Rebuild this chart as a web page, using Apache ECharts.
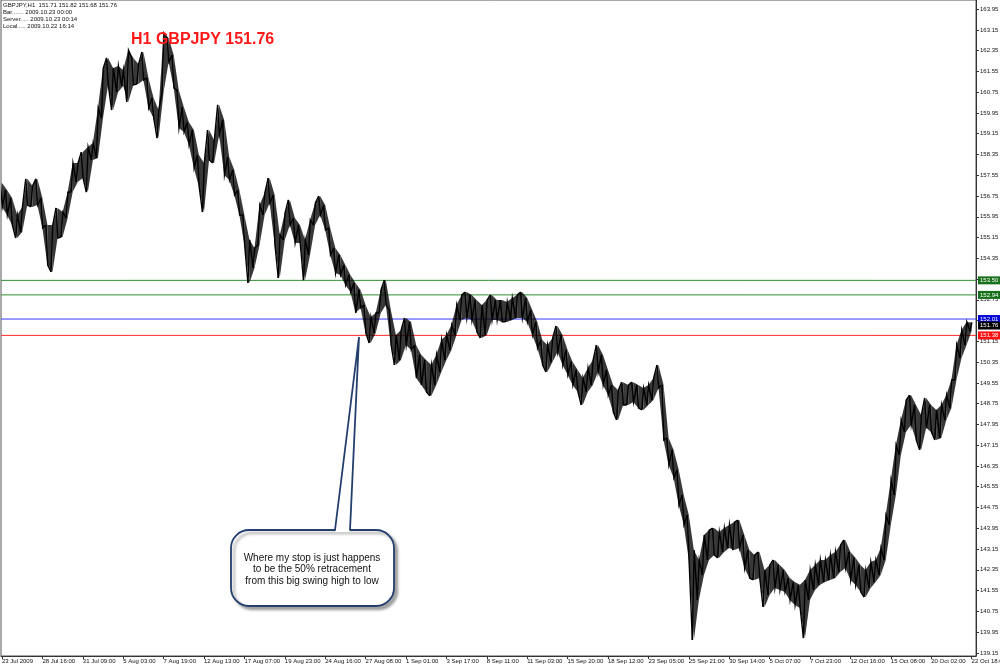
<!DOCTYPE html>
<html><head><meta charset="utf-8">
<script src="https://cdn.jsdelivr.net/npm/echarts@6/dist/echarts.min.js"></script>
<style>html,body{margin:0;padding:0;background:#fff;}#c{width:1000px;height:667px;}</style>
</head><body><div id="c"></div>
<script>
// Each sample = 8 hourly bars of GBPJPY H1 (high / low)
const highs = [157.25,156.98,156.67,156.02,156.33,157.41,157.14,157.41,156.67,155.63,
155.63,156.29,156.13,156.90,158.02,158.02,158.44,158.64,158.79,160.14,
161.68,162.07,161.68,161.76,161.60,162.37,162.07,161.83,162.30,161.30,
160.53,160.06,163.03,162.84,162.18,160.83,160.18,159.60,159.29,158.33,
158.02,159.29,158.91,160.26,159.68,158.25,157.75,156.98,156.02,155.06,
154.75,156.40,156.87,157.44,156.79,155.25,156.10,156.60,155.90,155.63,
155.06,155.83,156.48,156.75,156.40,155.52,154.75,154.48,154.09,153.71,
153.40,153.13,152.55,152.09,152.24,153.13,153.51,152.36,151.40,151.59,
152.05,151.90,151.01,150.63,150.43,150.24,150.63,151.20,151.40,151.78,
152.55,152.94,153.05,152.94,152.74,152.55,152.74,152.94,152.74,152.74,
152.67,152.82,152.94,153.05,152.82,152.36,151.90,151.20,151.01,151.28,
151.74,151.40,150.82,150.36,150.05,149.74,150.12,150.43,151.01,150.63,
150.05,149.47,149.27,149.58,149.47,149.58,149.47,149.35,149.47,149.74,
150.24,149.47,147.43,146.97,146.20,145.23,144.46,143.11,142.73,143.69,
143.88,143.96,143.81,143.96,144.08,144.19,144.27,143.69,143.11,142.92,
143.04,142.34,142.54,142.73,142.54,142.34,142.03,141.88,141.77,141.96,
142.34,142.54,142.73,142.73,142.92,143.04,143.31,143.50,143.04,142.81,
142.54,142.34,142.65,142.73,143.19,144.46,145.81,147.16,148.12,148.89,
149.08,148.70,148.31,148.97,148.70,148.51,148.70,149.08,149.66,151.01,
151.59,151.90,151.88];
const lows = [156.33,156.02,155.63,155.13,155.36,156.40,156.33,156.40,155.52,154.09,
153.82,155.13,155.17,155.90,156.90,157.29,157.44,156.90,158.14,158.21,
159.75,161.03,160.06,160.76,160.99,160.37,161.03,161.06,161.22,160.14,
159.75,158.98,160.76,161.91,160.91,159.37,159.22,158.72,157.83,157.10,
156.13,158.14,158.02,159.10,157.56,157.37,156.79,156.02,154.86,153.40,
153.98,154.86,156.02,156.48,154.86,153.59,155.06,155.63,154.94,154.94,
153.51,154.48,155.63,156.02,155.44,154.48,153.78,153.71,153.32,153.05,
152.24,152.44,151.47,151.09,151.47,152.24,152.55,151.01,150.24,150.43,
151.01,150.82,149.74,149.47,149.20,149.05,149.47,149.97,150.43,150.82,
151.40,151.97,152.05,151.97,151.51,151.28,151.40,151.97,151.97,151.90,
151.90,151.97,152.05,152.05,151.90,151.40,150.89,150.24,149.97,150.36,
150.74,150.24,149.86,149.47,149.20,148.70,149.20,149.47,149.97,149.47,
149.08,148.43,148.12,148.70,148.70,148.81,148.58,148.51,148.70,148.89,
149.35,147.35,146.39,145.89,144.85,144.08,142.73,139.65,141.19,142.15,
142.73,142.92,142.81,143.04,143.19,143.11,143.19,142.42,142.03,141.96,
142.03,140.92,141.38,141.65,141.57,141.50,141.19,140.99,140.88,139.72,
141.19,141.57,141.77,141.88,141.96,142.03,142.27,142.42,141.96,141.77,
141.50,141.30,141.65,141.88,142.15,142.73,144.08,145.23,146.77,147.66,
147.93,147.35,146.97,147.81,147.66,147.35,147.43,148.12,148.58,149.66,
150.51,151.01,151.55];
const xTickLabels = ['23 Jul 2009','28 Jul 16:00','31 Jul 09:00','5 Aug 03:00','7 Aug 19:00','12 Aug 13:00',
'17 Aug 07:00','19 Aug 23:00','24 Aug 16:00','27 Aug 08:00','1 Sep 01:00','3 Sep 17:00','8 Sep 11:00',
'11 Sep 03:00','15 Sep 20:00','18 Sep 12:00','23 Sep 05:00','25 Sep 21:00','30 Sep 14:00','5 Oct 07:00',
'7 Oct 23:00','12 Oct 16:00','15 Oct 08:00','20 Oct 02:00','22 Oct 18:00'];
const samplesPerLabel = 8;
const yTickLabels = ['163.95','163.15','162.35','161.55','160.75','159.95','159.15','158.35','157.55','156.75',
'155.95','155.15','154.35','153.55','152.75','151.95','151.15','150.35','149.55','148.75','147.95','147.15',
'146.35','145.55','144.75','143.95','143.15','142.35','141.55','140.75','139.95','139.15'];
const levels = [
  {value:153.50, line:'#2f8f2f', box:'#17701a'},
  {value:152.94, line:'#2f8f2f', box:'#17701a'},
  {value:152.01, line:'#3a3aff', box:'#0000d8'},
  {value:151.38, line:'#ff2a2a', box:'#ff1010'}
];
const lastPrice = 151.76;
const infoLines = ['GBPJPY,H1  151.71 151.82 151.68 151.76','Bar....... 2009.10.23 00:00','Server..... 2009.10.23 00:14','Local..... 2009.10.22 16:14'];
const titleText = 'H1 GBPJPY 151.76';
const noteLines = ['Where my stop is just happens','to be the 50% retracement','from this big swing high to low'];

const X_MIN = -0.198, X_MAX = 192.87;
const data = highs.map((h, i) => [i, h, lows[i]]);
const xTickPos = xTickLabels.map((_, k) => k * samplesPerLabel);
const yTickVals = yTickLabels.map(Number);
const FONT = 'Liberation Sans';
const n = highs.length;
function firstLast(i) {
  const midThis = (highs[i] + lows[i]) / 2;
  const j = i < n - 1 ? i + 1 : i;
  const midNext = (highs[j] + lows[j]) / 2;
  return midNext >= midThis ? [lows[i], highs[i]] : [highs[i], lows[i]];
}

const chart = echarts.init(document.getElementById('c'));
const labelData = levels.map(l => ({yAxis: l.value, label: {backgroundColor: l.box}}));
labelData.push({yAxis: lastPrice, label: {backgroundColor: '#000'}});

const levelSeries = levels.map(l => ({
  type: 'line', silent: true, symbol: 'none', z: 3,
  data: [[X_MIN, l.value], [X_MAX, l.value]],
  lineStyle: {color: l.line, width: 1}
}));

const boxStroke = '#243f6e';
chart.setOption({
  animation: false,
  grid: {left: 1, width: 975, top: 0, bottom: 11, show: true, borderColor: '#555', borderWidth: 1,
    outerBoundsMode: 'none', containLabel: false},
  xAxis: {
    type: 'value', min: X_MIN, max: X_MAX,
    splitLine: {show: false},
    axisLine: {show: true, onZero: false, lineStyle: {color: '#333'}},
    axisTick: {show: true, length: 3, customValues: xTickPos, lineStyle: {color: '#333'}},
    axisLabel: {
      customValues: xTickPos, align: 'left', margin: 2, fontSize: 6, fontFamily: FONT, color: '#111',
      formatter: v => xTickLabels[xTickPos.indexOf(v)] || ''
    }
  },
  yAxis: {
    type: 'value', position: 'right', min: 139.03, max: 164.30,
    splitLine: {show: false},
    axisLine: {show: true, onZero: false, lineStyle: {color: '#333'}},
    axisTick: {show: true, length: 3, customValues: yTickVals, lineStyle: {color: '#333'}},
    axisLabel: {customValues: yTickVals, margin: 4, fontSize: 6, fontFamily: FONT, color: '#111',
      formatter: v => v.toFixed(2)}
  },
  title: {
    text: titleText, left: 126, top: 27,
    textStyle: {color: '#ff1a1a', fontSize: 16, fontWeight: 'bold', fontFamily: FONT}
  },
  graphic: [
    ...infoLines.map((t, k) => ({
      type: 'text', x: 3, y: 2 + k * 7,
      style: {text: t, fontSize: 6, fontFamily: FONT, fill: '#111'}
    })),
    {
      type: 'rect', z: 10,
      shape: {x: 231, y: 530, width: 163, height: 76, r: 18},
      style: {fill: '#fff', stroke: boxStroke, lineWidth: 1.8,
        shadowBlur: 3, shadowOffsetX: 3, shadowOffsetY: 3, shadowColor: 'rgba(0,0,0,0.35)'}
    },
    {
      type: 'polygon', z: 11,
      shape: {points: [[335.5, 532], [359, 337], [349.5, 532]]},
      style: {fill: '#fff', stroke: null}
    },
    {
      type: 'polyline', z: 12,
      shape: {points: [[335, 530], [359, 337], [350, 530]]},
      style: {fill: null, stroke: boxStroke, lineWidth: 1.8}
    },
    ...noteLines.map((t, k) => ({
      type: 'text', z: 13, x: 312, y: 558 + k * 11.5,
      style: {text: t, fontSize: 10, fontFamily: FONT, fill: '#111', align: 'center', verticalAlign: 'middle'}
    }))
  ],
  series: [
    ...levelSeries,
    {
      type: 'custom',
      data: data,
      encode: {x: 0, y: [1, 2]},
      clip: true, z: 4,
      renderItem: function (params, api) {
        const i = api.value(0);
        const w = api.size([1, 0])[0];
        const children = [];
        if (i < n - 1) {
          const a = api.coord([i, highs[i]]);
          const b = api.coord([i + 1, highs[i + 1]]);
          const c = api.coord([i + 1, lows[i + 1]]);
          const d = api.coord([i, lows[i]]);
          children.push({type: 'polygon', shape: {points: [a, b, c, d]},
            style: {fill: 'rgba(0,0,0,0.78)', stroke: null}});
        }
        const fl = firstLast(i);
        const p1 = api.coord([i, fl[0]]);
        const p2 = api.coord([i, fl[1]]);
        const pts = [[p1[0] - w * 0.3, p1[1]], [p2[0] + w * 0.05, p2[1]]];
        if (i < n - 1) {
          const fn = firstLast(i + 1);
          const q = api.coord([i + 1, fn[0]]);
          pts.push([q[0] - w * 0.3, q[1]]);
        }
        children.push({type: 'polyline', shape: {points: pts},
          style: {fill: null, stroke: '#000', lineWidth: 1.4}});
        return {type: 'group', children: children};
      },
      markLine: {
        silent: true, symbol: 'none', animation: false,
        lineStyle: {color: 'rgba(0,0,0,0)', width: 1},
        label: {show: true, position: 'end', distance: 2, color: '#fff', fontSize: 6, fontFamily: FONT,
          padding: [1, 2, 1, 2], formatter: p => p.value.toFixed(2)},
        data: labelData
      }
    }
  ]
});
</script></body></html>
